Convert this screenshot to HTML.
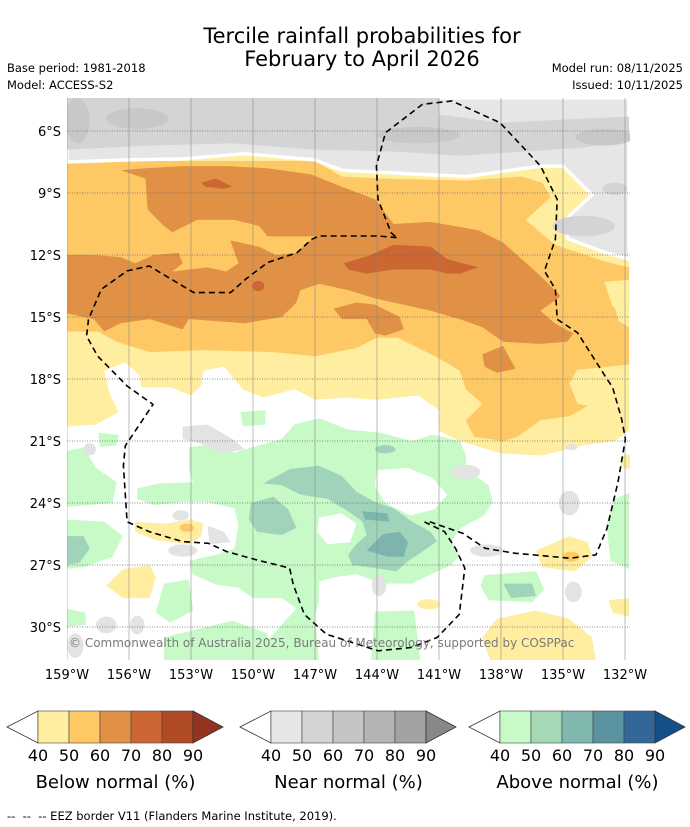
<!DOCTYPE html>
<html><head><meta charset="utf-8"><style>
html,body{margin:0;padding:0;background:#fff;width:690px;height:827px;overflow:hidden}
svg{display:block;font-family:"DejaVu Sans","Liberation Sans",sans-serif}
</style></head><body>
<svg id="root" width="690" height="827" viewBox="0 0 690 827">
<text x="362" y="43" font-size="21" text-anchor="middle">Tercile rainfall probabilities for</text>
<text x="362" y="66" font-size="21" text-anchor="middle">February to April 2026</text>
<text x="7" y="72" font-size="11.5">Base period: 1981-2018</text>
<text x="7" y="89" font-size="11.5">Model: ACCESS-S2</text>
<text x="683" y="72" font-size="11.5" text-anchor="end">Model run: 08/11/2025</text>
<text x="683" y="89" font-size="11.5" text-anchor="end">Issued: 10/11/2025</text>
<defs><clipPath id="mapclip"><rect x="67" y="98" width="563" height="562"/></clipPath></defs>
<g id="map" clip-path="url(#mapclip)"></g>
<g id="axes"></g>
<g id="legend"></g>
<text x="7" y="820" font-size="11.5" xml:space="preserve" style="white-space:pre">--  --  -- EEZ border V11 (Flanders Marine Institute, 2019).</text>
</svg>
<script>
// ---- data (lon, lat in degrees) ----
const lonTicks = [-159,-156,-153,-150,-147,-144,-141,-138,-135,-132];
const latTicks = [-6,-9,-12,-15,-18,-21,-24,-27,-30];
const legendTicks = ["40","50","60","70","80","90"];
const belowColors = ["#ffeda0","#fec965","#e09145","#cc6633","#b04b25"];
const nearColors = ["#e6e6e6","#d4d4d4","#c4c4c4","#b4b4b4","#a2a2a2"];
const aboveColors = ["#c8fac8","#a5d8b5","#80b8b0","#5b93a0","#336699"];

const yellowMain = [[-159,-6.5],[-131.8,-6.5],[-131.8,-20.5],[-132.5,-21.0],[-134,-21.2],[-136,-21.7],[-138,-21.6],[-140,-21.0],[-141,-20.5],[-141,-19.5],[-142,-18.8],[-144,-19.0],[-145.5,-18.9],[-147,-19.0],[-148,-18.5],[-149.5,-18.9],[-150.5,-18.5],[-150.9,-18.0],[-151.4,-17.4],[-152.4,-17.6],[-152.5,-18.3],[-153,-18.8],[-154,-18.4],[-155.4,-18.4],[-155.5,-17.8],[-156.2,-17.2],[-157.2,-17.6],[-156.9,-18.8],[-156.5,-19.6],[-157.6,-20.2],[-159,-20.3]];
const orangeMain = [[-159,-7.45],[-147,-7.45],[-145.7,-8.2],[-143.9,-8.3],[-139.7,-8.4],[-137,-8.2],[-136,-8.5],[-135.6,-9.2],[-136.8,-10.3],[-135.4,-11.5],[-133,-12.3],[-131.8,-12.6],[-131.8,-14.3],[-132.5,-14.5],[-132.3,-15.2],[-131.8,-15.5],[-131.8,-17.3],[-134.3,-17.55],[-134.7,-18.2],[-134.3,-19.2],[-133.8,-19.3],[-134.7,-19.8],[-136.1,-20.0],[-137.2,-20.8],[-137.9,-21.0],[-139.3,-20.8],[-139.7,-20.0],[-138.9,-19.2],[-139.7,-18.5],[-140.0,-17.6],[-141,-17.0],[-143,-16.0],[-144,-16.0],[-145,-16.5],[-147,-16.9],[-149,-16.7],[-152.5,-16.6],[-155,-16.7],[-156.6,-16.2],[-157.5,-15.7],[-159,-15.7]];
const darkOrangeMain = [[-156.4,-7.9],[-155.2,-7.8],[-153.4,-7.7],[-151.3,-7.7],[-149.3,-7.8],[-147.2,-8.1],[-145.7,-8.7],[-144.1,-9.3],[-143.2,-10.5],[-141.4,-10.4],[-139.1,-10.8],[-137.9,-11.4],[-137.0,-12.2],[-136.1,-13.0],[-135.1,-14.0],[-136.1,-14.7],[-135.4,-15.3],[-134.5,-15.8],[-134.8,-16.2],[-136.1,-16.3],[-137.9,-16.2],[-138.9,-15.5],[-140.0,-15.1],[-141.4,-14.7],[-143.2,-14.3],[-144.1,-14.1],[-145.4,-13.7],[-146.8,-13.4],[-147.7,-13.7],[-147.9,-14.3],[-148.6,-15.0],[-150.4,-15.3],[-153.1,-15.1],[-153.4,-15.6],[-155.0,-15.1],[-156.4,-15.3],[-157.2,-15.7],[-157.7,-15.1],[-159.1,-14.8],[-159.1,-12.0],[-157.7,-12.0],[-156.4,-12.1],[-155.7,-12.4],[-154.8,-12.0],[-153.6,-11.9],[-153.4,-12.4],[-153.9,-12.8],[-152.2,-12.6],[-151.3,-12.8],[-150.7,-12.4],[-151.1,-11.3],[-149.7,-11.6],[-148.9,-12.0],[-147.9,-11.9],[-147.0,-11.1],[-149.3,-11.1],[-149.7,-10.6],[-150.9,-10.3],[-152.7,-10.3],[-153.9,-10.9],[-154.3,-10.6],[-155.1,-9.8],[-155.2,-8.3]];
const darkOrangeIslands = [[-146.1,-14.6],[-145.0,-14.3],[-144.1,-14.4],[-142.9,-15.0],[-142.7,-15.6],[-143.6,-15.9],[-144.1,-15.8],[-144.5,-15.1],[-145.7,-15.1]];
const darkOrangeEast = [[-138.9,-16.8],[-137.9,-16.4],[-137.3,-17.5],[-138.2,-17.7],[-138.8,-17.4]];
const redBand = [[-145.6,-12.4],[-144.3,-12.0],[-143.2,-11.5],[-141.4,-11.6],[-140.6,-12.2],[-139.1,-12.6],[-140.0,-12.9],[-140.6,-12.9],[-141.4,-12.7],[-143.2,-12.7],[-144.5,-12.9],[-145.4,-12.7]];
const redNorth = [[-152.5,-8.5],[-151.8,-8.3],[-151.0,-8.7],[-151.4,-8.8],[-152.3,-8.7]];
const redDots = [[-149.75,-13.5,0.3,0.25]];
const yellowEastPatch = [[-133,-13.3],[-131.8,-13.2],[-131.8,-14.6],[-132.6,-14.5]];

const grayTop = [[-159,-4.4],[-131.8,-4.4],[-131.8,-12.2],[-132.9,-11.9],[-134.8,-11.2],[-134.7,-10.1],[-133.6,-9.1],[-135,-7.7],[-136.1,-7.7],[-139.7,-8.2],[-143.9,-8.0],[-145.7,-7.9],[-147,-7.4],[-150.4,-7.1],[-153.4,-7.35],[-156,-7.4],[-159,-7.5]];
const grayTopMid = [[-159,-4.4],[-141,-4.4],[-141,-5.2],[-138,-5.6],[-134,-5.4],[-131.8,-5.3],[-131.8,-6.5],[-134,-6.8],[-137,-7.0],[-140,-7.2],[-143,-7.0],[-147,-6.9],[-151,-6.6],[-155,-6.7],[-159,-6.9]];
const grayTopDark = [[-158.5,-5.5,0.6,1.1],[-155.6,-5.4,1.5,0.5],[-142,-6.2,2.0,0.4],[-133,-6.3,1.4,0.4]];
const grayTopMidBlobs = [[-134.0,-10.6,1.5,0.5],[-132.5,-8.8,0.6,0.3]];

const yellowPatches = [
 [[-155.7,-24.9],[-154.3,-25.0],[-153.0,-24.8],[-152.4,-25.0],[-152.5,-25.6],[-153.1,-26.0],[-154.7,-25.8],[-155.7,-25.4]],
 [[-156.3,-27.2],[-155.0,-27.0],[-154.7,-27.6],[-155.0,-28.6],[-156.3,-28.6],[-157.1,-28.0]],
 [[-136.3,-26.3],[-134.7,-25.6],[-133.8,-25.9],[-133.6,-26.6],[-134.4,-27.3],[-136.0,-27.1]],
 [[-138.2,-29.6],[-136.3,-29.2],[-134.7,-29.6],[-133.6,-30.5],[-133.4,-31.7],[-138.5,-31.7],[-138.9,-30.5]],
 [[-132.8,-28.7],[-131.8,-28.6],[-131.8,-29.5],[-132.6,-29.3]]
];
const yellowDots = [[-141.5,-28.9,0.55,0.25],[-131.9,-22.0,0.3,0.35]];
const orangeDots = [[-153.2,-25.2,0.35,0.2],[-134.6,-26.6,0.4,0.25]];

const greenMain = [[-153.1,-21.3],[-151.8,-21.15],[-150.9,-21.55],[-148.6,-20.9],[-148.0,-20.2],[-146.8,-19.9],[-145.4,-20.45],[-143.8,-20.6],[-142.3,-21.0],[-141.3,-20.7],[-140.0,-21.0],[-139.7,-21.7],[-139.7,-22.35],[-138.6,-23.15],[-138.4,-23.95],[-138.8,-24.6],[-140.0,-25.25],[-140.4,-25.85],[-140.0,-26.5],[-140.4,-27.0],[-141.4,-27.45],[-142.3,-27.9],[-143.8,-27.9],[-145.0,-27.45],[-146.1,-27.6],[-146.8,-27.8],[-146.8,-28.75],[-147.0,-29.4],[-146.8,-31.7],[-149.3,-31.7],[-149.3,-30.65],[-147.9,-29.1],[-148.6,-28.6],[-150.0,-28.6],[-150.7,-28.1],[-151.8,-27.95],[-152.9,-27.45],[-153.1,-26.8],[-151.8,-26.5],[-150.9,-26.2],[-150.7,-25.05],[-150.9,-24.25],[-152.2,-23.95],[-153.4,-23.95],[-154.8,-24.1],[-155.6,-23.8],[-155.6,-23.3],[-154.5,-23.05],[-152.9,-23.0],[-153.1,-22.35]];
const greenPatches = [
 [[-144.1,-29.25],[-142.2,-29.2],[-141.9,-31.7],[-144.3,-31.7]],
 [[-154.3,-27.9],[-153.1,-27.7],[-152.9,-29.2],[-154.0,-29.8],[-154.7,-29.3]],
 [[-154.3,-30.5],[-151.0,-29.7],[-149.3,-30.3],[-149.3,-31.7],[-154.3,-31.7]],
 [[-159.1,-21.5],[-158.2,-21.3],[-157.6,-22.3],[-156.6,-23.0],[-156.8,-24.0],[-159.1,-24.2]],
 [[-159.1,-24.8],[-157.2,-24.9],[-156.3,-25.6],[-156.8,-26.6],[-158.2,-27.1],[-159.1,-27.2]],
 [[-159.1,-29.1],[-158.1,-29.3],[-158.1,-29.9],[-159.1,-30.0]],
 [[-138.8,-27.5],[-136.3,-27.3],[-135.9,-28.2],[-136.5,-28.8],[-138.6,-28.7],[-139.0,-28.0]],
 [[-131.8,-23.5],[-132.5,-23.8],[-132.9,-25.0],[-132.7,-26.8],[-131.8,-27.2]],
 [[-157.5,-20.6],[-156.5,-20.7],[-156.6,-21.2],[-157.4,-21.3]],
 [[-150.6,-19.6],[-149.4,-19.5],[-149.4,-20.2],[-150.5,-20.3]]
];
const whiteHoles = [
 [[-144.0,-22.4],[-142.5,-22.3],[-141.3,-22.8],[-140.6,-23.6],[-141.2,-24.3],[-142.4,-24.6],[-143.6,-24.0],[-144.1,-23.2]],
 [[-146.8,-24.7],[-145.7,-24.5],[-145.0,-25.0],[-145.3,-25.9],[-146.4,-26.0],[-146.9,-25.4]]
];
const tealPatches = [
 [[-149.5,-23.05],[-148.2,-22.35],[-146.8,-22.2],[-145.7,-22.7],[-145.0,-23.45],[-144.1,-23.95],[-143.2,-24.25],[-142.3,-24.9],[-141.4,-25.4],[-141.1,-25.85],[-141.8,-26.35],[-142.5,-26.8],[-143.05,-27.3],[-144.1,-27.15],[-145.2,-27.0],[-145.4,-26.5],[-145.0,-26.0],[-144.5,-25.55],[-144.7,-24.9],[-145.4,-24.4],[-146.4,-23.8],[-147.7,-23.6],[-148.6,-23.15]],
 [[-150.1,-24.0],[-149.0,-23.7],[-148.3,-24.3],[-147.9,-25.2],[-148.6,-25.55],[-149.8,-25.4],[-150.2,-24.8]],
 [[-159.1,-25.6],[-158.2,-25.6],[-157.9,-26.2],[-158.4,-26.9],[-159.1,-27.0]],
 [[-137.9,-27.9],[-136.5,-27.9],[-136.3,-28.5],[-137.5,-28.6]]
];
const tealDots = [[-143.6,-21.4,0.5,0.2]];
const deepTealPatches = [
 [[-144.7,-24.4],[-143.5,-24.5],[-143.4,-24.9],[-144.6,-24.8]],
 [[-144.5,-26.3],[-143.7,-25.5],[-142.9,-25.4],[-142.5,-25.9],[-142.7,-26.6],[-143.5,-26.6]]
];
const grayLowPatches = [[[-153.4,-20.3],[-152.2,-20.2],[-151.0,-20.9],[-150.4,-21.4],[-151.5,-21.6],[-152.6,-21.1],[-153.4,-20.9]],
 [[-152.2,-25.1],[-151.4,-25.4],[-151.1,-25.9],[-152.1,-26.0]]];
const grayLowDots = [[-157.9,-21.4,0.3,0.3],[-153.5,-24.6,0.4,0.25],[-153.4,-26.3,0.7,0.3],[-139.7,-22.5,0.7,0.35],[-134.7,-24.0,0.5,0.6],[-134.6,-21.3,0.3,0.15],[-138.7,-26.3,0.8,0.3],[-134.5,-28.3,0.4,0.5],[-143.9,-28.0,0.35,0.5],[-157.1,-29.9,0.5,0.4],[-155.6,-29.9,0.35,0.45],[-158.6,-30.9,0.4,0.6]];

const eezWest = [[-143.05,-11.16],[-143.95,-11.08],[-146.8,-11.08],[-147.16,-11.24],[-147.87,-11.89],[-149.3,-12.37],[-150.37,-13.18],[-151.09,-13.82],[-152.87,-13.82],[-155.02,-12.53],[-156.09,-12.77],[-157.34,-13.66],[-157.96,-15.11],[-158.05,-15.92],[-157.52,-16.89],[-156.09,-18.34],[-154.84,-19.23],[-156.18,-21.23],[-156.27,-22.19],[-156.09,-24.91],[-155.02,-25.39],[-153.41,-25.87],[-152.16,-25.95],[-151.27,-26.35],[-149.84,-26.75],[-148.23,-27.15],[-148.05,-27.95],[-147.52,-29.39],[-146.45,-30.35],[-143.95,-31.15],[-142.34,-30.99],[-141.09,-30.51],[-140.02,-29.39],[-139.75,-27.15],[-140.2,-26.19],[-140.73,-25.39],[-141.71,-24.91]];
const eezEast = [[-141.45,-24.91],[-139.84,-25.47],[-138.77,-26.19],[-137.34,-26.43],[-134.66,-26.67],[-133.41,-26.51],[-132.87,-25.23],[-132.34,-22.99],[-131.98,-20.91],[-132.16,-19.95],[-132.6,-18.4],[-132.87,-18.0],[-134.3,-15.76],[-135.28,-15.11],[-135.37,-13.66],[-135.9,-12.77],[-135.37,-11.24],[-135.28,-9.31],[-136.09,-7.69],[-138.05,-5.6],[-140.37,-4.55],[-141.8,-4.71],[-143.59,-6.08],[-144.03,-7.69],[-143.95,-9.31],[-143.32,-10.92],[-143.05,-11.16]];

// ---- axis functions ----
const X = lon => 67 + (lon + 159) * 62 / 3;
const Y = lat => 131 + (-6 - lat) * 62 / 3;
const NS = 'http://www.w3.org/2000/svg';
const map = document.getElementById('map');
const axes = document.getElementById('axes');
const legend = document.getElementById('legend');
function mk(tag, attrs, parent) {
  const e = document.createElementNS(NS, tag);
  for (const k in attrs) e.setAttribute(k, attrs[k]);
  parent.appendChild(e);
  return e;
}
function pts(arr) { return arr.map(p => X(p[0]).toFixed(1) + ',' + Y(p[1]).toFixed(1)).join(' '); }
function poly(arr, fill, name, extra) {
  const e = mk('polygon', Object.assign({points: pts(arr), fill: fill}, extra || {}), map);
  
  
  return e;
}
function ell(arr, fill, name) {
  arr.forEach(d => {
    const e = mk('ellipse', {cx: X(d[0]), cy: Y(d[1]), rx: d[2] * 62 / 3, ry: d[3] * 62 / 3, fill: fill}, map);
    
    
  });
}

const bg = mk('rect', {x: 67, y: 98, width: 563, height: 562, fill: '#fff'}, map);



poly(yellowMain, '#ffeda0', 'below-normal-40-50-region');
poly(orangeMain, '#fec965', 'below-normal-50-60-region');
poly(yellowEastPatch, '#ffeda0', 'below-normal-40-50-patch');
poly(darkOrangeMain, '#e09145', 'below-normal-60-70-region');
poly(darkOrangeIslands, '#e09145', 'below-normal-60-70-patch');
poly(darkOrangeEast, '#e09145', 'below-normal-60-70-patch');
poly(redBand, '#cc6633', 'below-normal-70-80-region');
poly(redNorth, '#cc6633', 'below-normal-70-80-patch');
ell(redDots, '#cc6633', 'below-normal-70-80-dot');

poly(grayTop, '#e6e6e6', 'near-normal-40-50-region', {stroke: '#fff', 'stroke-width': 3.5, 'stroke-linejoin': 'round'});
poly(grayTopMid, '#d4d4d4', 'near-normal-50-60-region');
ell(grayTopDark, '#c8c8c8', 'near-normal-60-70-blob');
ell(grayTopMidBlobs, '#d4d4d4', 'near-normal-50-60-blob');

yellowPatches.forEach(p => poly(p, '#ffeda0', 'below-normal-40-50-patch'));
ell(yellowDots, '#ffeda0', 'below-normal-40-50-dot');
ell(orangeDots, '#fec965', 'below-normal-50-60-dot');

poly(greenMain, '#c8fac8', 'above-normal-40-50-region');
greenPatches.forEach(p => poly(p, '#c8fac8', 'above-normal-40-50-patch'));
whiteHoles.forEach(p => poly(p, '#fff', 'neutral-hole'));
tealPatches.forEach(p => poly(p, '#a0d4ba', 'above-normal-50-60-patch'));
ell(tealDots, '#a0d4ba', 'above-normal-50-60-dot');
deepTealPatches.forEach(p => poly(p, '#7db4ae', 'above-normal-60-70-patch'));
grayLowPatches.forEach(p => poly(p, '#e3e3e3', 'near-normal-40-50-patch'));
ell(grayLowDots, '#e3e3e3', 'near-normal-40-50-dot');

// gridlines
lonTicks.forEach(lon => {
  const l = mk('line', {x1: X(lon), x2: X(lon), y1: 98, y2: 660, stroke: '#888', 'stroke-width': 0.7, 'stroke-opacity': 0.8}, map);
  
  
});
latTicks.forEach(lat => {
  const l = mk('line', {x1: 67, x2: 630, y1: Y(lat), y2: Y(lat), stroke: '#666', 'stroke-width': 0.8, 'stroke-dasharray': '1,1.5'}, map);
  
  
});

// EEZ borders
[eezWest, eezEast].forEach(line => {
  const e = mk('polyline', {points: pts(line), fill: 'none', stroke: '#000', 'stroke-width': 1.6, 'stroke-dasharray': '6,4'}, map);
  
  
});

const cp = mk('text', {x: 69, y: 647, 'font-size': 12, fill: '#7a7a7a'}, map);
cp.textContent = '© Commonwealth of Australia 2025, Bureau of Meteorology, supported by COSPPac';



// axis labels
lonTicks.forEach(lon => {
  const t = mk('text', {x: X(lon), y: 679, 'font-size': 13, 'text-anchor': 'middle'}, axes);
  t.textContent = Math.abs(lon) + '°W';
  
  
});
latTicks.forEach(lat => {
  const t = mk('text', {x: 61, y: Y(lat) + 5, 'font-size': 13, 'text-anchor': 'end'}, axes);
  t.textContent = Math.abs(lat) + '°S';
  
  
});

// colorbars
const bars = [
  {x0: 7, colors: belowColors, tip: '#933420', title: 'Below normal (%)', name: 'below-normal'},
  {x0: 240, colors: nearColors, tip: '#888888', title: 'Near normal (%)', name: 'near-normal'},
  {x0: 469, colors: aboveColors, tip: '#134f88', title: 'Above normal (%)', name: 'above-normal'}
];
bars.forEach(b => {
  const g = mk('g', {}, legend);
  
  
  const y0 = 711, h = 32, cw = 31, rx = b.x0 + 31;
  const lt = mk('polygon', {points: `${b.x0},${y0 + h / 2} ${rx},${y0} ${rx},${y0 + h}`, fill: '#fff', stroke: '#333', 'stroke-width': 0.8}, g);
  
  
  b.colors.forEach((c, i) => {
    const r = mk('rect', {x: rx + i * cw, y: y0, width: cw, height: h, fill: c, stroke: '#444', 'stroke-width': 0.6}, g);
    
    
  });
  const ex = rx + 5 * cw;
  const rt = mk('polygon', {points: `${ex},${y0} ${ex + 30},${y0 + h / 2} ${ex},${y0 + h}`, fill: b.tip, stroke: '#333', 'stroke-width': 0.8}, g);
  
  
  legendTicks.forEach((t, i) => {
    const tx = mk('text', {x: rx + i * cw, y: 761, 'font-size': 16, 'text-anchor': 'middle'}, g);
    tx.textContent = t;
    
    
  });
  const tt = mk('text', {x: rx + 2.5 * cw, y: 788, 'font-size': 18, 'text-anchor': 'middle'}, g);
  tt.textContent = b.title;
  
  
});
</script>
</body></html>
